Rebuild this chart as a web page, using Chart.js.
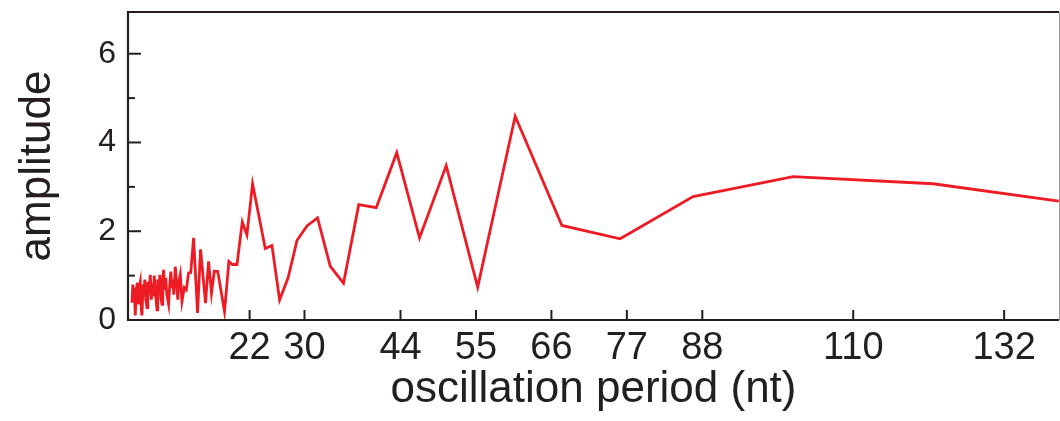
<!DOCTYPE html>
<html>
<head>
<meta charset="utf-8">
<script src="https://cdn.jsdelivr.net/npm/chart.js@4/dist/chart.umd.min.js"></script>
<style>
  html, body { margin: 0; padding: 0; background: #fff; }
</style>
</head>
<body>
<canvas id="myLineChart" width="1060" height="421"></canvas>
<script>
// Start Data
const periods = [
  4.85, 4.97, 5.09, 5.19, 5.33, 5.48, 5.63, 5.77, 5.92, 6.06,
  6.21, 6.31, 6.46, 6.57, 6.72, 6.86, 7.04, 7.16, 7.30, 7.52,
  7.67, 7.81, 7.96, 8.10, 8.25, 8.50, 8.61, 8.76, 8.91, 9.05,
  9.23, 9.34, 9.46, 9.63, 9.78, 9.93, 10.19, 10.36, 10.51, 10.65,
  10.80, 10.95, 11.16, 11.38, 11.53, 11.67, 11.89, 12.14, 12.48, 12.77,
  13.10, 13.42, 13.83, 14.41, 14.85, 15.57, 16.02, 16.44, 16.85, 17.36,
  18.34, 18.98, 19.47, 20.16, 20.93, 21.61, 22.43, 24.28, 25.26, 26.37,
  27.61, 28.90, 30.36, 31.90, 33.76, 35.69, 37.91, 40.46, 43.45, 46.77,
  50.66, 55.25, 60.72, 67.53, 76.02, 86.66, 101.24, 121.64, 139.97
];
const amplitudes = [
  0.39, 0.80, 0.46, 0.73, 0.10, 0.68, 0.84, 0.35, 0.75, 0.86,
  0.23, 0.10, 0.80, 0.55, 0.91, 0.46, 0.28, 0.86, 0.57, 1.02,
  0.46, 0.82, 0.53, 1.00, 0.64, 0.23, 0.91, 0.64, 1.02, 0.50,
  0.35, 0.91, 1.13, 0.68, 0.95, 0.57, 0.35, 0.80, 1.09, 0.73,
  0.91, 0.57, 1.20, 0.80, 0.46, 0.84, 1.02, 0.42, 0.73, 0.68,
  1.06, 1.07, 1.85, 0.16, 1.59, 0.38, 1.32, 0.60, 1.10, 1.09,
  0.19, 1.32, 1.25, 1.25, 2.21, 1.92, 3.07, 1.61, 1.68, 0.45,
  0.95, 1.79, 2.12, 2.30, 1.21, 0.83, 2.60, 2.53, 3.77, 1.85,
  3.48, 0.74, 4.59, 2.13, 1.83, 2.78, 3.23, 3.07, 2.68
];
const xTickValues = [22, 30, 44, 55, 66, 77, 88, 110, 132];
const yTickValues = [0, 2, 4, 6];
const yMinorValues = [1, 3, 5];
// End Data

const fontFamily = "'Liberation Sans', Arial, sans-serif";
const inkColor = "#231f20";

// Start Frame Plugin (box + inward ticks)
const framePlugin = {
  id: "frame",
  afterDatasetsDraw(chart) {
    const { ctx, chartArea: a, scales } = chart;
    const x = scales.x, y = scales.y;
    ctx.save();
    ctx.lineCap = "butt";
    // right edge, thin grey
    ctx.strokeStyle = "#9a9a9a";
    ctx.lineWidth = 1;
    ctx.beginPath();
    ctx.moveTo(a.right + 0.5, a.top);
    ctx.lineTo(a.right + 0.5, a.bottom);
    ctx.stroke();
    // left, top, bottom
    ctx.strokeStyle = inkColor;
    ctx.lineWidth = 2.2;
    ctx.beginPath();
    ctx.moveTo(a.right, a.top);
    ctx.lineTo(a.left, a.top);
    ctx.lineTo(a.left, a.bottom);
    ctx.lineTo(a.right, a.bottom);
    ctx.stroke();
    // y ticks
    ctx.lineWidth = 2;
    yTickValues.forEach(v => {
      const py = y.getPixelForValue(v);
      ctx.beginPath();
      ctx.moveTo(a.left, py);
      ctx.lineTo(a.left + 13, py);
      ctx.stroke();
    });
    yMinorValues.forEach(v => {
      const py = y.getPixelForValue(v);
      ctx.beginPath();
      ctx.moveTo(a.left, py);
      ctx.lineTo(a.left + 7, py);
      ctx.stroke();
    });
    // x ticks
    xTickValues.forEach(v => {
      const px = x.getPixelForValue(v);
      ctx.beginPath();
      ctx.moveTo(px, a.bottom);
      ctx.lineTo(px, a.bottom - 10);
      ctx.stroke();
    });
    ctx.restore();
  },
};
// End Frame Plugin

// Start Line Chart
const line_ctx = document.getElementById("myLineChart");

const lineChart = new Chart(line_ctx, {
  type: "line",
  data: {
    datasets: [
      {
        data: periods.map((p, i) => ({ x: p, y: amplitudes[i] })),
        borderColor: "#ed1c24",
        borderWidth: 2.8,
        pointRadius: 0,
        tension: 0,
        fill: false,
      },
    ],
  },
  options: {
    responsive: false,
    animation: false,
    devicePixelRatio: 1,
    layout: { padding: { top: 12, right: 1, bottom: 0, left: 0 } },
    scales: {
      x: {
        type: "linear",
        min: 4.27,
        max: 140,
        afterBuildTicks: (scale) => {
          scale.ticks = xTickValues.map(v => ({ value: v }));
        },
        afterFit: (scale) => {
          scale.height = 101;
          scale.paddingLeft = 0;
          scale.paddingRight = 0;
        },
        grid: { display: false, drawTicks: false },
        border: { display: false },
        ticks: {
          autoSkip: false,
          maxRotation: 0,
          padding: 6,
          color: inkColor,
          font: { family: fontFamily, size: 38, lineHeight: 1.2 },
        },
        title: {
          display: true,
          text: "oscillation period (nt)",
          color: inkColor,
          padding: { top: 0, bottom: 5 },
          font: { family: fontFamily, size: 44, lineHeight: 1.2 },
        },
      },
      y: {
        min: 0,
        max: 6.94,
        afterBuildTicks: (scale) => {
          scale.ticks = yTickValues.map(v => ({ value: v }));
        },
        afterFit: (scale) => {
          scale.width = 128;
          scale.paddingTop = 0;
          scale.paddingBottom = 0;
        },
        grid: { display: false, drawTicks: false },
        border: { display: false },
        ticks: {
          padding: 12,
          color: inkColor,
          font: { family: fontFamily, size: 32, lineHeight: 1.2 },
        },
        title: {
          display: true,
          text: "amplitude",
          color: inkColor,
          padding: { top: 11, bottom: 0 },
          font: { family: fontFamily, size: 44, lineHeight: 1.2 },
        },
      },
    },
    plugins: {
      legend: { display: false },
      tooltip: { enabled: false },
    },
  },
  plugins: [framePlugin],
});
// End Line Chart
</script>
</body>
</html>
